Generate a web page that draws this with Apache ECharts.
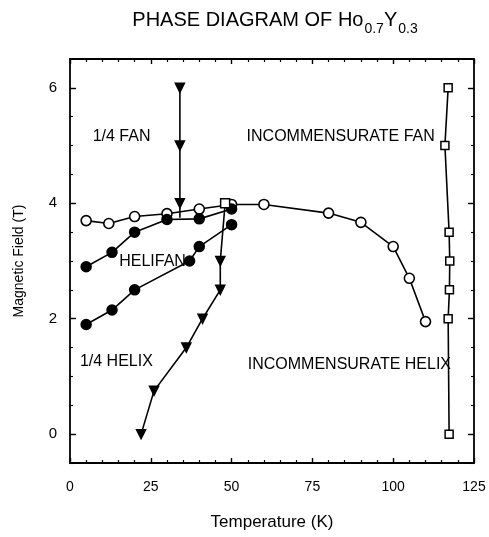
<!DOCTYPE html>
<html>
<head>
<meta charset="utf-8">
<script src="https://cdn.jsdelivr.net/npm/echarts@6/dist/echarts.min.js"></script>
<style>
  html, body { margin: 0; padding: 0; background: #fff; }
  #chart { width: 489px; height: 537px; }
</style>
</head>
<body>
<div id="chart"></div>
<script>
// Phase boundaries of Ho0.7Y0.3: temperature (K) vs magnetic field (T)
const openCircles = [[5, 3.7], [12, 3.65], [20, 3.77], [30, 3.82], [40, 3.9], [50, 3.98], [60, 3.98], [80, 3.83], [90, 3.67], [100, 3.25], [105, 2.7], [110, 1.95]];
const fanBoundary = [[5, 2.9], [13, 3.15], [20, 3.5], [30, 3.72], [40, 3.73], [50, 3.9]];
const helixBoundary = [[5, 1.9], [13, 2.15], [20, 2.5], [37, 3.0], [40, 3.25], [50, 3.63]];
const fanVertical = [[34, 6], [34, 5], [34, 4], [34, 3.75]];
const helixTriangles = [[48, 4], [46.5, 3], [46.5, 2.5], [41, 2], [36, 1.5], [26, 0.75], [22, 0]];
const neelSquares = [[117, 6], [116, 5], [117.3, 3.5], [117.5, 3], [117.4, 2.5], [117, 2], [117.3, 0]];
const xTicks = [0, 25, 50, 75, 100, 125];
const yTicks = [0, 2, 4, 6];
const phaseLabels = [
  { name: '1/4 FAN', value: [16.1, 5.14] },
  { name: 'INCOMMENSURATE FAN', value: [83.9, 5.14] },
  { name: 'HELIFAN', value: [25.7, 2.98] },
  { name: '1/4 HELIX', value: [14.5, 1.24] },
  { name: 'INCOMMENSURATE HELIX', value: [86.6, 1.19] }
];

const font = '"Liberation Sans", Arial, sans-serif';
const ink = '#000';

const chart = echarts.init(document.getElementById('chart'));

const lineBase = {
  type: 'line',
  xAxisIndex: 0,
  yAxisIndex: 0,
  symbolSize: 9,
  lineStyle: { color: ink, width: 1.6 },
  itemStyle: { color: ink, borderColor: ink, borderWidth: 1.5 },
  animation: false,
  z: 3
};

const frameLine = { show: true, onZero: false, lineStyle: { color: ink, width: 1.8 } };

chart.setOption({
  backgroundColor: '#fff',
  animation: false,
  title: {
    text: '{m|PHASE DIAGRAM OF Ho}{s|0.7}{m|Y}{s|0.3}',
    left: 270,
    textAlign: 'center',
    top: 5,
    textStyle: {
      fontWeight: 'normal',
      rich: {
        m: { fontFamily: font, fontSize: 20, fontWeight: 'normal', color: ink, verticalAlign: 'top', lineHeight: 23 },
        s: { fontFamily: font, fontSize: 14, fontWeight: 'normal', color: ink, verticalAlign: 'top', lineHeight: 23, padding: [12, 0, 0, 1] }
      }
    }
  },
  grid: { left: 70, right: 15, top: 59, bottom: 74 },
  xAxis: [
    {
      type: 'value', min: 0, max: 125, interval: 25,
      name: 'Temperature (K)', nameLocation: 'middle', nameGap: 51,
      nameTextStyle: { fontFamily: font, fontSize: 17, color: ink },
      axisLine: frameLine,
      axisTick: { show: true, inside: true, length: 5, lineStyle: { color: ink, width: 1.4 } },
      minorTick: { show: true, splitNumber: 5, length: 3, lineStyle: { color: ink, width: 1.2 } },
      axisLabel: { fontFamily: font, fontSize: 14, color: ink, margin: 17, customValues: xTicks },
      splitLine: { show: false }
    },
    {
      type: 'value', min: 0, max: 125, interval: 25, position: 'top',
      axisLine: frameLine,
      axisTick: { show: true, inside: true, length: 5, lineStyle: { color: ink, width: 1.4 } },
      minorTick: { show: true, splitNumber: 5, length: 3, lineStyle: { color: ink, width: 1.2 } },
      axisLabel: { show: false },
      splitLine: { show: false }
    }
  ],
  yAxis: [
    {
      type: 'value', min: -0.5, max: 6.5,
      name: 'Magnetic Field (T)', nameLocation: 'middle', nameGap: 44, nameRotate: 90,
      nameTextStyle: { fontFamily: font, fontSize: 14, color: ink },
      axisLine: frameLine,
      axisTick: { show: true, inside: true, length: 6, customValues: yTicks, lineStyle: { color: ink, width: 1.4 } },
      axisLabel: { fontFamily: font, fontSize: 15, color: ink, margin: 13, customValues: yTicks },
      splitLine: { show: false }
    },
    {
      type: 'value', min: -0.5, max: 6.5, position: 'right',
      axisLine: frameLine,
      axisTick: { show: true, inside: true, length: 6, customValues: yTicks, lineStyle: { color: ink, width: 1.4 } },
      axisLabel: { show: false },
      splitLine: { show: false }
    },
    {
      // minor ticks on the left edge
      type: 'value', min: -0.5, max: 6.5, interval: 0.5, position: 'left',
      axisLine: { show: false, onZero: false },
      axisTick: { show: true, inside: true, length: 3, lineStyle: { color: ink, width: 1.1 } },
      axisLabel: { show: false },
      splitLine: { show: false }
    },
    {
      // minor ticks on the right edge
      type: 'value', min: -0.5, max: 6.5, interval: 0.5, position: 'right',
      axisLine: { show: false, onZero: false },
      axisTick: { show: true, inside: true, length: 3, lineStyle: { color: ink, width: 1.1 } },
      axisLabel: { show: false },
      splitLine: { show: false }
    }
  ],
  series: [
    Object.assign({}, lineBase, {
      name: 'open circles',
      data: openCircles,
      symbol: 'circle',
      symbolSize: 10,
      itemStyle: { color: '#fff', borderColor: ink, borderWidth: 1.6 }
    }),
    Object.assign({}, lineBase, {
      name: 'fan boundary',
      data: fanBoundary,
      symbol: 'circle',
      symbolSize: 10
    }),
    Object.assign({}, lineBase, {
      name: 'helix boundary',
      data: helixBoundary,
      symbol: 'circle',
      symbolSize: 10
    }),
    Object.assign({}, lineBase, {
      name: 'fan vertical',
      data: fanVertical.map((p, i) => i === fanVertical.length - 1 ? { value: p, symbol: 'none' } : p),
      symbol: 'triangle',
      symbolRotate: 180,
      symbolSize: 9
    }),
    Object.assign({}, lineBase, {
      name: 'helix triangles',
      data: helixTriangles.map((p, i) => i === 0 ? { value: p, symbol: 'rect', itemStyle: { color: '#fff', borderColor: ink, borderWidth: 1.5 } } : p),
      symbol: 'triangle',
      symbolRotate: 180,
      symbolSize: 9
    }),
    Object.assign({}, lineBase, {
      name: 'squares',
      data: neelSquares,
      symbol: 'rect',
      symbolSize: 8,
      itemStyle: { color: '#fff', borderColor: ink, borderWidth: 1.5 }
    }),
    {
      type: 'scatter',
      name: 'phase labels',
      data: phaseLabels,
      symbolSize: 1,
      itemStyle: { opacity: 0 },
      silent: true,
      z: 5,
      label: {
        show: true,
        position: [0, 0],
        align: 'center',
        verticalAlign: 'middle',
        formatter: p => p.name,
        fontFamily: font,
        fontSize: 16,
        color: ink,
        opacity: 1
      }
    }
  ]
});
</script>
</body>
</html>
